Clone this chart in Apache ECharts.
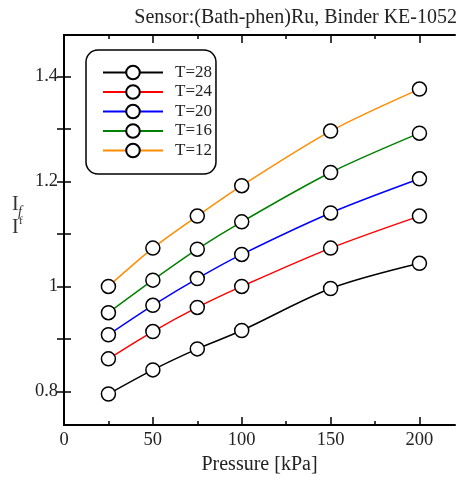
<!DOCTYPE html>
<html>
<head>
<meta charset="utf-8">
<script src="https://cdn.jsdelivr.net/npm/echarts@6/dist/echarts.min.js"></script>
<style>html,body{margin:0;padding:0;background:#fff}#c{width:467px;height:477px}</style>
</head>
<body>
<div id="c"></div>
<script>
const pressures = [25, 50, 75, 100, 150, 200];
const seriesNames = ['T=28', 'T=24', 'T=20', 'T=16', 'T=12'];
const t28 = [0.795, 0.841, 0.881, 0.916, 0.996, 1.044];
const t24 = [0.862, 0.914, 0.960, 1.000, 1.073, 1.134];
const t20 = [0.908, 0.964, 1.015, 1.061, 1.140, 1.205];
const t16 = [0.950, 1.012, 1.071, 1.123, 1.217, 1.292];
const t12 = [1.000, 1.073, 1.134, 1.192, 1.296, 1.376];
const xLabels = [0, 50, 100, 150, 200];
const xTicks = [0, 25, 50, 75, 100, 125, 150, 175, 200];
const yLabels = [0.8, 1, 1.2, 1.4];
const yTicks = [0.8, 0.9, 1.0, 1.1, 1.2, 1.3, 1.4];
const colors = ['#000000', '#ff0000', '#0000ff', '#008000', '#ff8c00'];
const allData = [t28, t24, t20, t16, t12];

const FONT = 'Liberation Serif';
const TXT = '#222';
const chart = echarts.init(document.getElementById('c'), null, {renderer: 'canvas'});

const series = seriesNames.map((n, i) => ({
  name: n,
  type: 'line',
  smooth: 0.3,
  xAxisIndex: 0, yAxisIndex: 0,
  data: pressures.map((p, j) => [p, allData[i][j]]),
  symbol: 'circle',
  symbolSize: 14,
  showSymbol: true,
  lineStyle: {color: colors[i], width: 1.5},
  itemStyle: {color: '#ffffff', borderColor: '#000000', borderWidth: 1.5},
  z: 2 + i,
  animation: false
}));

const YMIN = 0.736, YMAX = 1.479;
const axisLineStyle = {color: '#000', width: 2};
const tickStyle = {color: '#000', width: 1.5};
chart.setOption({
  animation: false,
  title: {
    text: 'Sensor:(Bath-phen)Ru, Binder KE-1052',
    right: 5, top: 3,
    textStyle: {fontFamily: FONT, fontSize: 20, fontWeight: 'normal', color: TXT}
  },
  legend: {
    left: 86, top: 50,
    orient: 'vertical',
    itemWidth: 60, itemHeight: 17, itemGap: 2.5,
    padding: [14, 4, 15, 16],
    borderColor: '#000', borderWidth: 1.5, borderRadius: 12,
    textStyle: {fontFamily: FONT, fontSize: 17, color: TXT, padding: [0, 0, 0, 7]},
    data: seriesNames
  },
  grid: {left: 64, top: 35, right: 12, bottom: 52, containLabel: false, outerBoundsMode: 'none'},
  xAxis: [{
    type: 'value', min: 0, max: 220,
    name: 'Pressure [kPa]', nameLocation: 'middle', nameGap: 29,
    nameTextStyle: {fontFamily: FONT, fontSize: 20, color: TXT},
    axisLine: {lineStyle: axisLineStyle},
    axisTick: {inside: true, length: 8, customValues: xLabels, lineStyle: tickStyle},
    axisLabel: {customValues: xLabels, fontFamily: FONT, fontSize: 18.5, color: TXT, margin: 6},
    splitLine: {show: false}
  }, {
    type: 'value', min: 0, max: 220, position: 'top',
    axisLine: {lineStyle: axisLineStyle},
    axisTick: {inside: true, length: 8, customValues: xLabels, lineStyle: tickStyle},
    axisLabel: {show: false}, splitLine: {show: false}
  }, {
    type: 'value', min: 0, max: 220, position: 'bottom',
    axisLine: {show: false},
    axisTick: {inside: true, length: 4, customValues: xTicks, lineStyle: tickStyle},
    axisLabel: {show: false}, splitLine: {show: false}
  }, {
    type: 'value', min: 0, max: 220, position: 'top',
    axisLine: {show: false},
    axisTick: {inside: true, length: 4, customValues: xTicks, lineStyle: tickStyle},
    axisLabel: {show: false}, splitLine: {show: false}
  }],
  yAxis: [{
    type: 'value', min: YMIN, max: YMAX,
    axisLine: {show: true, lineStyle: axisLineStyle},
    axisTick: {show: true, inside: true, length: 7, customValues: yTicks, lineStyle: tickStyle},
    axisLabel: {customValues: yLabels, fontFamily: FONT, fontSize: 18.5, color: TXT, margin: 6,
      formatter: v => (Math.abs(v - 1) < 1e-9 ? '1' : String(Math.round(v * 10) / 10))},
    splitLine: {show: false}
  }, {
    type: 'value', min: YMIN, max: YMAX, position: 'right',
    axisLine: {show: true, lineStyle: axisLineStyle},
    axisTick: {show: true, inside: true, length: 7, customValues: yTicks, lineStyle: tickStyle},
    axisLabel: {show: false}, splitLine: {show: false}
  }],
  graphic: [
    {type: 'text', left: 12, top: 195, style: {text: 'I', fontFamily: FONT, fontSize: 20, fill: '#333'}},
    {type: 'text', left: 18, top: 205, style: {text: 'f', fontFamily: FONT, fontSize: 14, fontStyle: 'italic', fill: '#333'}},
    {type: 'text', left: 12, top: 218, style: {text: 'I', fontFamily: FONT, fontSize: 20, fill: '#333'}},
    {type: 'text', left: 19, top: 216, style: {text: 'f', fontFamily: FONT, fontSize: 11, fill: '#333'}}
  ],
  series: series
});
</script>
</body>
</html>
